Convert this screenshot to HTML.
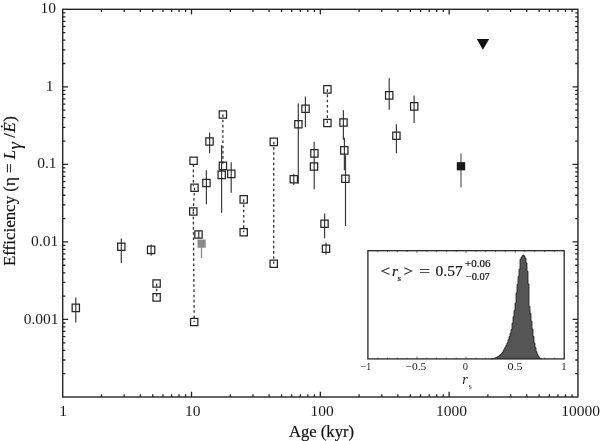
<!DOCTYPE html>
<html><head><meta charset="utf-8"><style>
html,body{margin:0;padding:0;background:#fff;}
svg{display:block;will-change:transform;}
text{font-family:"Liberation Serif",serif;}
.b text,text.b{stroke:#1a1a1a;stroke-width:0.22px;}
</style></head><body>
<svg width="600" height="441" viewBox="0 0 600 441">
<rect width="600" height="441" fill="#fff"/>
<path d="M101.48 397.00V394.30M101.48 9.30V12.00M124.16 397.00V394.30M124.16 9.30V12.00M140.25 397.00V394.30M140.25 9.30V12.00M152.74 397.00V394.30M152.74 9.30V12.00M162.94 397.00V394.30M162.94 9.30V12.00M171.56 397.00V394.30M171.56 9.30V12.00M179.03 397.00V394.30M179.03 9.30V12.00M185.62 397.00V394.30M185.62 9.30V12.00M191.51 397.00V391.80M191.51 9.30V14.50M230.29 397.00V394.30M230.29 9.30V12.00M252.97 397.00V394.30M252.97 9.30V12.00M269.07 397.00V394.30M269.07 9.30V12.00M281.55 397.00V394.30M281.55 9.30V12.00M291.75 397.00V394.30M291.75 9.30V12.00M300.37 397.00V394.30M300.37 9.30V12.00M307.84 397.00V394.30M307.84 9.30V12.00M314.43 397.00V394.30M314.43 9.30V12.00M320.32 397.00V391.80M320.32 9.30V14.50M359.10 397.00V394.30M359.10 9.30V12.00M381.78 397.00V394.30M381.78 9.30V12.00M397.88 397.00V394.30M397.88 9.30V12.00M410.36 397.00V394.30M410.36 9.30V12.00M420.56 397.00V394.30M420.56 9.30V12.00M429.18 397.00V394.30M429.18 9.30V12.00M436.65 397.00V394.30M436.65 9.30V12.00M443.24 397.00V394.30M443.24 9.30V12.00M449.14 397.00V391.80M449.14 9.30V14.50M487.91 397.00V394.30M487.91 9.30V12.00M510.60 397.00V394.30M510.60 9.30V12.00M526.69 397.00V394.30M526.69 9.30V12.00M539.17 397.00V394.30M539.17 9.30V12.00M549.37 397.00V394.30M549.37 9.30V12.00M558.00 397.00V394.30M558.00 9.30V12.00M565.47 397.00V394.30M565.47 9.30V12.00M572.06 397.00V394.30M572.06 9.30V12.00M62.70 373.66H65.40M577.95 373.66H575.25M62.70 360.00H65.40M577.95 360.00H575.25M62.70 350.32H65.40M577.95 350.32H575.25M62.70 342.80H65.40M577.95 342.80H575.25M62.70 336.66H65.40M577.95 336.66H575.25M62.70 331.47H65.40M577.95 331.47H575.25M62.70 326.97H65.40M577.95 326.97H575.25M62.70 323.01H65.40M577.95 323.01H575.25M62.70 319.46H68.10M577.95 319.46H572.55M62.70 296.12H65.40M577.95 296.12H575.25M62.70 282.46H65.40M577.95 282.46H575.25M62.70 272.78H65.40M577.95 272.78H575.25M62.70 265.26H65.40M577.95 265.26H575.25M62.70 259.12H65.40M577.95 259.12H575.25M62.70 253.93H65.40M577.95 253.93H575.25M62.70 249.43H65.40M577.95 249.43H575.25M62.70 245.47H65.40M577.95 245.47H575.25M62.70 241.92H68.10M577.95 241.92H572.55M62.70 218.58H65.40M577.95 218.58H575.25M62.70 204.92H65.40M577.95 204.92H575.25M62.70 195.24H65.40M577.95 195.24H575.25M62.70 187.72H65.40M577.95 187.72H575.25M62.70 181.58H65.40M577.95 181.58H575.25M62.70 176.39H65.40M577.95 176.39H575.25M62.70 171.89H65.40M577.95 171.89H575.25M62.70 167.93H65.40M577.95 167.93H575.25M62.70 164.38H68.10M577.95 164.38H572.55M62.70 141.04H65.40M577.95 141.04H575.25M62.70 127.38H65.40M577.95 127.38H575.25M62.70 117.70H65.40M577.95 117.70H575.25M62.70 110.18H65.40M577.95 110.18H575.25M62.70 104.04H65.40M577.95 104.04H575.25M62.70 98.85H65.40M577.95 98.85H575.25M62.70 94.35H65.40M577.95 94.35H575.25M62.70 90.39H65.40M577.95 90.39H575.25M62.70 86.84H68.10M577.95 86.84H572.55M62.70 63.50H65.40M577.95 63.50H575.25M62.70 49.84H65.40M577.95 49.84H575.25M62.70 40.16H65.40M577.95 40.16H575.25M62.70 32.64H65.40M577.95 32.64H575.25M62.70 26.50H65.40M577.95 26.50H575.25M62.70 21.31H65.40M577.95 21.31H575.25M62.70 16.81H65.40M577.95 16.81H575.25M62.70 12.85H65.40M577.95 12.85H575.25" stroke="#262626" stroke-width="1.3" fill="none"/>
<rect x="62.70" y="9.30" width="515.25" height="387.70" fill="none" stroke="#262626" stroke-width="1.4"/>
<g transform="translate(0 0.35)">
<path d="M75.8 297.1V322.2M121.3 238.2V262.6M151.1 244.1V255.4M198.8 230.2V238.0M206.4 169.9V203.8M209.6 132.2V153.0M221.6 144.8V212.5M231.2 161.8V192.4M293.8 173.4V184.7M298.3 103.1V183.4M305.4 96.1V126.7M314.2 141.3V188.8M343.4 110.0V139.5M344.4 137.5V170.0M345.5 155.0V225.6M324.6 213.1V238.0M326.0 242.2V254.3M389.2 78.0V109.5M414.1 95.1V122.7M396.4 123.9V152.9" stroke="#3c3c3c" stroke-width="1.2" fill="none"/>
<path d="M201.5 247V257.8" stroke="#888" stroke-width="1.3"/>
<path d="M461.0 153.1V187.1" stroke="#666" stroke-width="1.3"/>
<path d="M156.6 283.2L156.6 297.0M193.4 164.0L193.4 186.0M194.5 187.4L193.3 211.1M193.3 211.1L194.2 321.7M222.9 114.1L222.9 165.5M243.7 199.0L243.7 231.9M273.8 141.5L273.7 263.3M327.4 89.0L327.4 122.6" stroke="#333" stroke-width="1.3" stroke-dasharray="2.6 2.6" fill="none"/>
<path d="M72.15 303.85h7.30v7.30h-7.30ZM117.65 242.65h7.30v7.30h-7.30ZM147.45 245.85h7.30v7.30h-7.30ZM152.95 279.55h7.30v7.30h-7.30ZM152.95 293.35h7.30v7.30h-7.30ZM189.95 156.65h7.30v7.30h-7.30ZM190.85 183.75h7.30v7.30h-7.30ZM189.65 207.45h7.30v7.30h-7.30ZM194.85 230.55h7.30v7.30h-7.30ZM190.55 318.05h7.30v7.30h-7.30ZM202.75 179.05h7.30v7.30h-7.30ZM205.85 137.45h7.30v7.30h-7.30ZM219.25 110.45h7.30v7.30h-7.30ZM219.25 161.85h7.30v7.30h-7.30ZM218.05 170.85h7.30v7.30h-7.30ZM227.65 169.85h7.30v7.30h-7.30ZM240.05 195.35h7.30v7.30h-7.30ZM240.05 228.25h7.30v7.30h-7.30ZM270.15 137.85h7.30v7.30h-7.30ZM270.05 259.65h7.30v7.30h-7.30ZM290.15 175.25h7.30v7.30h-7.30ZM294.75 120.15h7.30v7.30h-7.30ZM301.85 104.65h7.30v7.30h-7.30ZM310.75 149.35h7.30v7.30h-7.30ZM310.35 162.55h7.30v7.30h-7.30ZM323.75 85.35h7.30v7.30h-7.30ZM323.75 118.95h7.30v7.30h-7.30ZM339.85 118.55h7.30v7.30h-7.30ZM340.65 146.35h7.30v7.30h-7.30ZM341.75 174.75h7.30v7.30h-7.30ZM320.85 219.65h7.30v7.30h-7.30ZM322.35 244.65h7.30v7.30h-7.30ZM385.55 91.35h7.30v7.30h-7.30ZM410.55 102.35h7.30v7.30h-7.30ZM392.75 131.65h7.30v7.30h-7.30Z" stroke="#262626" stroke-width="1.25" fill="none"/>
<rect x="197.5" y="239.20000000000002" width="8.2" height="8.2" fill="#8a8a8a"/>
<rect x="456.8" y="161.8" width="8.4" height="8.2" fill="#1a1a1a"/>
<path d="M476.8 38.7H489.2L482.9 49.4Z" fill="#111"/>
</g>
<g font-family="Liberation Serif" font-size="15.5" fill="#1a1a1a">
<text x="63.0" y="415.6" text-anchor="middle">1</text>
<text x="192.8" y="415.6" text-anchor="middle">10</text>
<text x="322.1" y="415.6" text-anchor="middle">100</text>
<text x="451.4" y="415.6" text-anchor="middle">1000</text>
<text x="580.6" y="415.6" text-anchor="middle">10000</text>
<text x="56.0" y="13.3" text-anchor="end">10</text>
<text x="53.4" y="90.6" text-anchor="end">1</text>
<text x="56.5" y="168.1" text-anchor="end">0.1</text>
<text x="58.2" y="245.8" text-anchor="end">0.01</text>
<text x="58.5" y="323.8" text-anchor="end">0.001</text>
</g>
<text class="b" x="289.0" y="437.0" font-family="Liberation Serif" font-size="16.6" fill="#111" textLength="65" lengthAdjust="spacingAndGlyphs">Age (kyr)</text>
<g class="b" transform="translate(15.2 0) rotate(-90)" font-family="Liberation Serif" fill="#111">
<text x="-266.1" y="0" font-size="16.7" textLength="102.7" lengthAdjust="spacingAndGlyphs">Efficiency (η =</text>
<text x="-159.35" y="0" font-size="16.7" font-style="italic">L</text>
<text x="-149.3" y="5.5" font-size="18" font-style="italic">γ</text>
<text x="-137.87" y="0" font-size="16.7">/</text>
<text x="-132.5" y="0" font-size="16.7" font-style="italic">E</text>
<text x="-121.74" y="0" font-size="16.7">)</text>
</g>
<circle cx="1.9" cy="126.4" r="1.0" fill="#111"/>
<rect x="364.9" y="247.7" width="202.30000000000007" height="114.19999999999999" fill="#fff"/>
<path d="M491.00 358.9V358.83H492.00V358.70H493.00V358.57H494.00V358.30H495.00V357.90H496.00V357.50H497.00V356.97H498.00V356.30H499.00V355.63H500.00V354.78H501.00V353.73H502.00V352.53H503.00V350.67H504.00V348.81H505.00V346.96H506.00V345.10H507.00V342.86H508.00V339.71H509.00V336.56H510.00V333.42H511.00V329.61H512.00V323.16H513.00V316.77H514.00V310.61H515.00V303.20H516.00V292.87H517.00V284.40H518.00V276.47H519.00V269.16H520.00V259.29H521.00V257.23H522.00V255.75H523.00V255.20H524.00V256.06H525.00V258.35H526.00V262.92H527.00V271.26H528.00V284.00H529.00V306.30H530.00V313.61H531.00V321.22H532.00V329.29H533.00V336.33H534.00V343.12H535.00V347.52H536.00V351.66H537.00V354.35H538.00V356.29H539.00V357.75H540.00V358.37H541.00V358.90H542.00V358.9Z" fill="#555" stroke="none"/>
<path d="M491.00 358.9V358.83H492.00V358.70H493.00V358.57H494.00V358.30H495.00V357.90H496.00V357.50H497.00V356.97H498.00V356.30H499.00V355.63H500.00V354.78H501.00V353.73H502.00V352.53H503.00V350.67H504.00V348.81H505.00V346.96H506.00V345.10H507.00V342.86H508.00V339.71H509.00V336.56H510.00V333.42H511.00V329.61H512.00V323.16H513.00V316.77H514.00V310.61H515.00V303.20H516.00V292.87H517.00V284.40H518.00V276.47H519.00V269.16H520.00V259.29H521.00V257.23H522.00V255.75H523.00V255.20H524.00V256.06H525.00V258.35H526.00V262.92H527.00V271.26H528.00V284.00H529.00V306.30H530.00V313.61H531.00V321.22H532.00V329.29H533.00V336.33H534.00V343.12H535.00V347.52H536.00V351.66H537.00V354.35H538.00V356.29H539.00V357.75H540.00V358.37H541.00V358.90H542.00V358.9" fill="none" stroke="#1a1a1a" stroke-width="0.8"/>
<path d="M377.71 358.9V357.59999999999997M377.71 250.7V252.0M387.53 358.9V357.59999999999997M387.53 250.7V252.0M397.34 358.9V357.59999999999997M397.34 250.7V252.0M407.16 358.9V357.59999999999997M407.16 250.7V252.0M416.98 358.9V356.5M416.98 250.7V253.1M426.79 358.9V357.59999999999997M426.79 250.7V252.0M436.61 358.9V357.59999999999997M436.61 250.7V252.0M446.42 358.9V357.59999999999997M446.42 250.7V252.0M456.24 358.9V357.59999999999997M456.24 250.7V252.0M466.05 358.9V356.5M466.05 250.7V253.1M475.87 358.9V357.59999999999997M475.87 250.7V252.0M485.68 358.9V357.59999999999997M485.68 250.7V252.0M495.50 358.9V357.59999999999997M495.50 250.7V252.0M505.31 358.9V357.59999999999997M505.31 250.7V252.0M515.12 358.9V356.5M515.12 250.7V253.1M524.94 358.9V357.59999999999997M524.94 250.7V252.0M534.75 358.9V357.59999999999997M534.75 250.7V252.0M544.57 358.9V357.59999999999997M544.57 250.7V252.0M554.38 358.9V357.59999999999997M554.38 250.7V252.0" stroke="#555" stroke-width="0.8" fill="none"/>
<rect x="367.9" y="250.7" width="196.30" height="108.20" fill="none" stroke="#262626" stroke-width="1.3"/>
<g font-family="Liberation Serif" font-size="10.6" fill="#1a1a1a" text-anchor="middle">
<text x="366.00" y="370.4" textLength="10.4" lengthAdjust="spacingAndGlyphs">−1</text>
<text x="416.00" y="370.4" textLength="20.6" lengthAdjust="spacingAndGlyphs">−0.5</text>
<text x="465.40" y="370.4">0</text>
<text x="515.00" y="370.4" textLength="15.2" lengthAdjust="spacingAndGlyphs">0.5</text>
<text x="563.90" y="370.4">1</text>
</g>
<text x="462.2" y="383.8" font-family="Liberation Serif" font-style="italic" font-size="14" fill="#1a1a1a">r</text>
<text x="468.7" y="388.7" font-family="Liberation Serif" font-size="7.6" fill="#1a1a1a">s</text>
<g class="b" font-family="Liberation Serif" fill="#1a1a1a">
<text x="380.6" y="276.0" font-size="15.5" textLength="9.6" lengthAdjust="spacingAndGlyphs">&lt;</text>
<text x="392.0" y="276.0" font-size="15" font-style="italic">r</text>
<text x="397.6" y="280.6" font-size="9">s</text>
<text x="403.6" y="276.0" font-size="15.5" textLength="9.6" lengthAdjust="spacingAndGlyphs">&gt;</text>
<text x="419.3" y="276.0" font-size="15.5" textLength="10.8" lengthAdjust="spacingAndGlyphs">=</text>
<text x="435.6" y="275.7" font-size="14.8" textLength="27.2" lengthAdjust="spacingAndGlyphs">0.57</text>
<text x="465.0" y="266.9" font-size="9.6" textLength="25.4" lengthAdjust="spacingAndGlyphs">+0.06</text>
<text x="465.8" y="279.9" font-size="9.6" textLength="24.0" lengthAdjust="spacingAndGlyphs">−0.07</text>
</g>
</svg>
</body></html>
